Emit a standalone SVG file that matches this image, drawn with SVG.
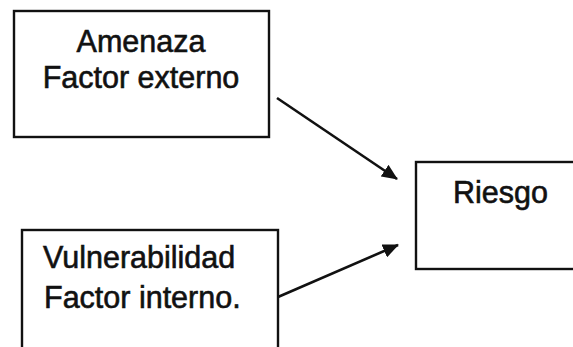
<svg xmlns="http://www.w3.org/2000/svg" width="573" height="347" viewBox="0 0 573 347">
<defs>
<style>
.box{fill:none;stroke:#111;stroke-width:2.4}
.t{font-family:"Liberation Sans",Arial,sans-serif;font-size:30.5px;fill:#111;stroke:#111;stroke-width:0.6}
.c{stroke:#111;stroke-width:2.6;fill:none}
</style>
<marker id="ah" markerWidth="16" markerHeight="14" refX="15" refY="7" orient="auto" markerUnits="userSpaceOnUse">
<path d="M0,0 L16,7 L0,14 Z" fill="#111"/>
</marker>
</defs>
<rect width="573" height="347" fill="#fff"/>
<g id="amenaza">
<rect class="box" x="14" y="11" width="255" height="126"/>
<text class="t" x="141" y="52" text-anchor="middle">Amenaza</text>
<text class="t" x="141" y="88" text-anchor="middle">Factor externo</text>
</g>
<g id="vulnerabilidad">
<rect class="box" x="22" y="230" width="256" height="140"/>
<text class="t" x="43" y="268">Vulnerabilidad</text>
<text class="t" x="44" y="308">Factor interno.</text>
</g>
<g id="riesgo">
<rect class="box" x="416" y="162" width="180" height="107"/>
<text class="t" x="453" y="203">Riesgo</text>
</g>
<g id="connectors">
<line class="c" x1="277" y1="98" x2="397" y2="179" marker-end="url(#ah)"/>
<line class="c" x1="278" y1="297" x2="398" y2="245" marker-end="url(#ah)"/>
</g>
</svg>
